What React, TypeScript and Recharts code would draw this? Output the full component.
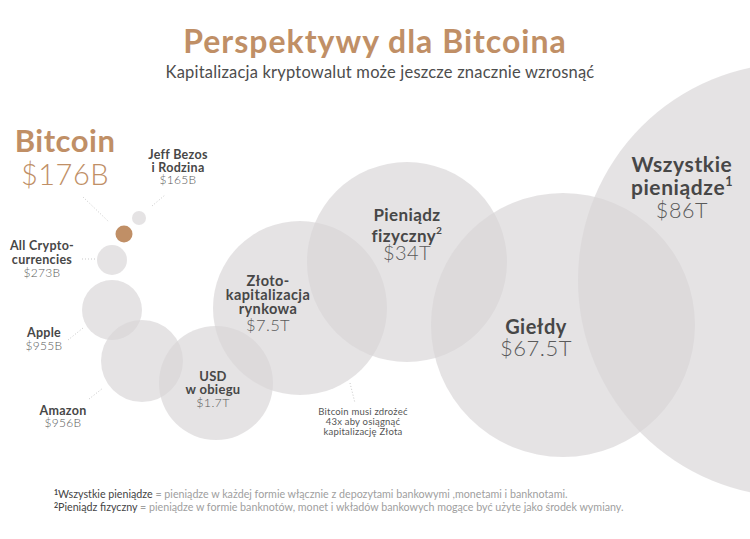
import React from 'react';
import { ScatterChart, Scatter, XAxis, YAxis, ZAxis } from 'recharts';

// ---- data ----
const names = [
  'Jeff Bezos i Rodzina',
  'Bitcoin',
  'All Crypto-currencies',
  'Apple',
  'Amazon',
  'USD w obiegu',
  'Złoto-kapitalizacja rynkowa',
  'Pieniądz fizyczny',
  'Giełdy',
  'Wszystkie pieniądze',
];
const labelLines = [
  ['Jeff Bezos', 'i Rodzina'],
  ['Bitcoin'],
  ['All Crypto-', 'currencies'],
  ['Apple'],
  ['Amazon'],
  ['USD', 'w obiegu'],
  ['Złoto-', 'kapitalizacja', 'rynkowa'],
  ['Pieniądz', 'fizyczny'],
  ['Giełdy'],
  ['Wszystkie', 'pieniądze'],
];
const footnoteMarks = ['', '', '', '', '', '', '', '2', '', '1'];
const valueLabels = ['$165B', '$176B', '$273B', '$955B', '$956B', '$1.7T', '$7.5T', '$34T', '$67.5T', '$86T'];
// bubble layout coordinates (chart units) and bubble size (z)
const bubbleX = [139, 124, 112, 112, 142, 216, 300, 407, 563, 795];
const bubbleY = [218, 234, 260, 310, 361, 383, 308, 262, 325, 280];
const bubbleZ = [49, 72, 225, 900, 1681, 3249, 7569, 10000, 17424, 47089];

const title = 'Perspektywy dla Bitcoina';
const subtitle = 'Kapitalizacja kryptowalut może jeszcze znacznie wzrosnąć';
const footnotes = [
  { mark: '1', term: 'Wszystkie pieniądze', text: ' = pieniądze w każdej formie włącznie z depozytami bankowymi ,monetami i banknotami.' },
  { mark: '2', term: 'Pieniądz fizyczny', text: ' = pieniądze w formie banknotów, monet i wkładów bankowych mogące być użyte jako środek wymiany.' },
];
const annotation = ['Bitcoin musi zdrożeć', '43x aby osiągnąć', 'kapitalizację Złota'];

const data = names.map((n, i) => ({
  name: n,
  x: bubbleX[i],
  y: bubbleY[i],
  z: bubbleZ[i],
  value: valueLabels[i],
  lines: labelLines[i],
  sup: footnoteMarks[i],
  idx: i,
}));

// ---- styles ----
const FONT = 'Lato, sans-serif';
const BROWN = '#c08f66';
const DARK = '#474747';
const MID = '#5a5a5a';
const BUBBLE_FILL = 'rgb(216,214,215)';
const BUBBLE_OPACITY = 0.68;

type LStyle = {
  dx: number;
  dys: number[];
  nameSize: number;
  valueSize: number;
  leader?: number[];
  color?: string;
  ls?: number;
};
const LABEL_STYLE: LStyle[] = [
  { dx: 39, dys: [-59, -46, -34], nameSize: 12.5, valueSize: 12, leader: [13, -12, 26, -23], ls: 0.3 },
  { dx: -59, dys: [-82, -49], nameSize: 31, valueSize: 29, leader: [-41, -37, -15, -12], color: BROWN, ls: 0.5 },
  { dx: -70, dys: [-10, 4, 17], nameSize: 12.5, valueSize: 12, leader: [-30, -1, -17, -1], ls: 0.3 },
  { dx: -68, dys: [27, 40], nameSize: 12.5, valueSize: 12, leader: [-44, 30, -29, 18], ls: 0.3 },
  { dx: -79, dys: [54, 66], nameSize: 12.5, valueSize: 12, leader: [-53, 38, -39, 27], ls: 0.3 },
  { dx: -3, dys: [-2, 11, 24], nameSize: 13, valueSize: 12.5, ls: 0.3 },
  { dx: -32, dys: [-22, -8, 6, 23], nameSize: 14.5, valueSize: 16.5, leader: [50, 75, 55, 95], ls: 0.4 },
  { dx: 0, dys: [-41, -20, -2], nameSize: 17, valueSize: 20, ls: 0.4 },
  { dx: -27, dys: [9, 31], nameSize: 20, valueSize: 22, ls: 0.5 },
  { dx: -113, dys: [-108, -85, -62], nameSize: 21, valueSize: 21.5, ls: 0.6 },
];

const radiusOf = (p: any) =>
  p.width != null ? p.width / 2 : Math.sqrt(Math.max(p.size || 0, 0) / Math.PI);

const BubbleShape = (props: any) => {
  const { cx, cy, payload } = props;
  const r = radiusOf(props);
  const isBtc = payload.idx === 1;
  return (
    <circle
      cx={cx}
      cy={cy}
      r={r}
      fill={isBtc ? BROWN : BUBBLE_FILL}
      fillOpacity={isBtc ? 1 : BUBBLE_OPACITY}
    />
  );
};

const LabelShape = (props: any) => {
  const { cx, cy, payload } = props;
  const st = LABEL_STYLE[payload.idx];
  const lines: string[] = payload.lines;
  const tx = cx + st.dx;
  const nameColor = st.color || DARK;
  const valueColor = st.color || MID;
  return (
    <g>
      {st.leader && (
        <line
          x1={cx + st.leader[0]}
          y1={cy + st.leader[1]}
          x2={cx + st.leader[2]}
          y2={cy + st.leader[3]}
          stroke="#c9c9c9"
          strokeWidth={1}
          strokeDasharray="1 2"
        />
      )}
      {lines.map((ln, k) => (
        <text
          key={k}
          x={tx}
          y={cy + st.dys[k]}
          textAnchor="middle"
          fontFamily={FONT}
          fontWeight={700}
          fontSize={st.nameSize}
          letterSpacing={st.ls || 0}
          fill={nameColor}
        >
          {ln}
          {k === lines.length - 1 && payload.sup ? (
            <tspan fontSize={st.nameSize * 0.6} dy={-st.nameSize * 0.45}>
              {payload.sup}
            </tspan>
          ) : null}
        </text>
      ))}
      <text
        x={tx}
        y={cy + st.dys[lines.length]}
        textAnchor="middle"
        fontFamily={FONT}
        fontWeight={300}
        fontSize={st.valueSize}
        letterSpacing={st.ls || 0}
        fill={valueColor}
      >
        {payload.value}
      </text>
      {payload.idx === 6 &&
        annotation.map((a, k) => (
          <text
            key={'a' + k}
            x={cx + 63}
            y={cy + 107 + k * 10}
            textAnchor="middle"
            fontFamily={FONT}
            fontSize={9.5}
            letterSpacing={0.2}
            fill="#555"
          >
            {a}
          </text>
        ))}
    </g>
  );
};

export default function App() {
  return (
    <div style={{ position: 'absolute', left: 0, top: 0, width: 750, height: 539, background: '#fff', overflow: 'hidden' }}>
      <div style={{ position: 'absolute', left: 0, top: 0 }}>
        <ScatterChart width={750} height={539} margin={{ top: 0, right: 0, bottom: 0, left: 0 }}>
          <XAxis type="number" dataKey="x" domain={[0, 750]} allowDataOverflow hide />
          <YAxis type="number" dataKey="y" domain={[0, 539]} allowDataOverflow reversed hide />
          <ZAxis type="number" dataKey="z" domain={[0, 47089]} range={[0, Math.PI * 47089]} />
          <Scatter data={data} shape={BubbleShape} isAnimationActive={false} />
          <Scatter data={data} shape={LabelShape} isAnimationActive={false} />
        </ScatterChart>
      </div>
      <svg width={750} height={539} style={{ position: 'absolute', left: 0, top: 0, pointerEvents: 'none' }}>
        <text x={375} y={53} textAnchor="middle" fontFamily={FONT} fontWeight={700} fontSize={32} letterSpacing={1} fill={BROWN}>
          {title}
        </text>
        <text x={380} y={78} textAnchor="middle" fontFamily={FONT} fontSize={16.5} letterSpacing={0.2} fill="#4d4d4d">
          {subtitle}
        </text>
        {footnotes.map((f, k) => (
          <text key={k} x={54} y={498 + k * 13} fontFamily={FONT} fontSize={10.7} fill="#a0a0a0">
            <tspan fontSize={7} dy={-3} fill="#444" fontWeight={700}>{f.mark}</tspan>
            <tspan dy={3} fill="#444">{f.term}</tspan>
            <tspan>{f.text}</tspan>
          </text>
        ))}
      </svg>
    </div>
  );
}
